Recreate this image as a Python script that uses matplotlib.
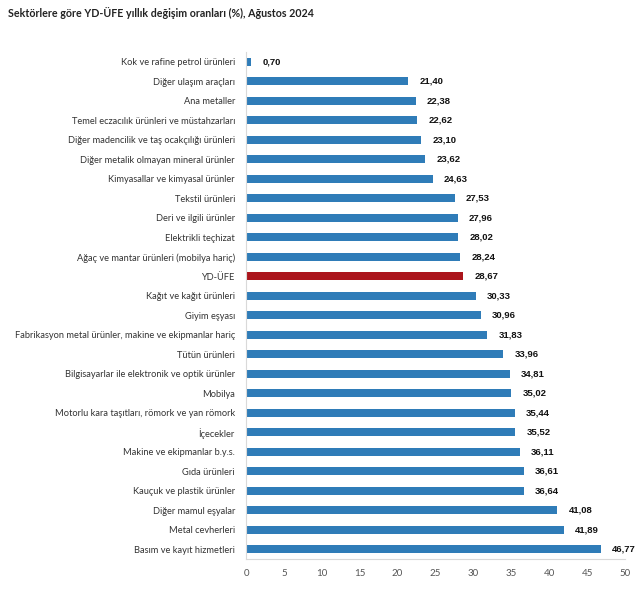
import matplotlib
matplotlib.use("Agg")
import matplotlib.pyplot as plt

categories = [
    "Kok ve rafine petrol ürünleri",
    "Diğer ulaşım araçları",
    "Ana metaller",
    "Temel eczacılık ürünleri ve müstahzarları",
    "Diğer madencilik ve taş ocakçılığı ürünleri",
    "Diğer metalik olmayan mineral ürünler",
    "Kimyasallar ve kimyasal ürünler",
    "Tekstil ürünleri",
    "Deri ve ilgili ürünler",
    "Elektrikli teçhizat",
    "Ağaç ve mantar ürünleri (mobilya hariç)",
    "YD-ÜFE",
    "Kağıt ve kağıt ürünleri",
    "Giyim eşyası",
    "Fabrikasyon metal ürünler, makine ve ekipmanlar hariç",
    "Tütün ürünleri",
    "Bilgisayarlar ile elektronik ve optik ürünler",
    "Mobilya",
    "Motorlu kara taşıtları, römork ve yan römork",
    "İçecekler",
    "Makine ve ekipmanlar b.y.s.",
    "Gıda ürünleri",
    "Kauçuk ve plastik ürünler",
    "Diğer mamul eşyalar",
    "Metal cevherleri",
    "Basım ve kayıt hizmetleri",
]
values = [0.70, 21.40, 22.38, 22.62, 23.10, 23.62, 24.63, 27.53, 27.96, 28.02,
          28.24, 28.67, 30.33, 30.96, 31.83, 33.96, 34.81, 35.02, 35.44, 35.52,
          36.11, 36.61, 36.64, 41.08, 41.89, 46.77]
highlight = "YD-ÜFE"
x_ticks = [0, 5, 10, 15, 20, 25, 30, 35, 40, 45, 50]

blue = "#2f7cb8"
red = "#ab151c"

fig = plt.figure(figsize=(6.41, 5.89), dpi=100)
ax = fig.add_axes([246/641, 1-559/589, (625-246)/641, (559-52)/589])

y = list(range(len(categories)))
colors = [red if c == highlight else blue for c in categories]
ax.barh(y, values, height=0.42, color=colors, edgecolor="none")
ax.set_ylim(len(categories)-0.5, -0.5)
ax.set_xlim(0, 50)
ax.set_yticks(y)
ax.set_yticklabels(categories, fontsize=6.7, color="#333333", family="Lato")
ax.set_xticks(x_ticks)
ax.set_xticklabels([str(t) for t in x_ticks], fontsize=7, color="#555555", family="Lato")
ax.tick_params(axis="y", length=0, pad=8)
ax.tick_params(axis="x", length=0, pad=7)
for s in ["top", "right"]:
    ax.spines[s].set_visible(False)
ax.spines["left"].set_color("#d9d9d9")
ax.spines["bottom"].set_color("#d9d9d9")
ax.spines["left"].set_linewidth(0.8)
ax.spines["bottom"].set_linewidth(0.8)

for yi, v in zip(y, values):
    ax.annotate(f"{v:.2f}".replace(".", ","), xy=(v, yi), xytext=(8, 0),
                textcoords="offset points", va="center", ha="left",
                fontsize=6.8, fontweight="bold", family="Liberation Sans", color="#111111")

fig.text(8/641, 1-13/589, "Sektörlere göre YD-ÜFE yıllık değişim oranları (%), Ağustos 2024",
         fontsize=7.7, fontweight="bold", family="Lato", color="#222222", va="center", ha="left")

fig.savefig("out.png", dpi=100)
